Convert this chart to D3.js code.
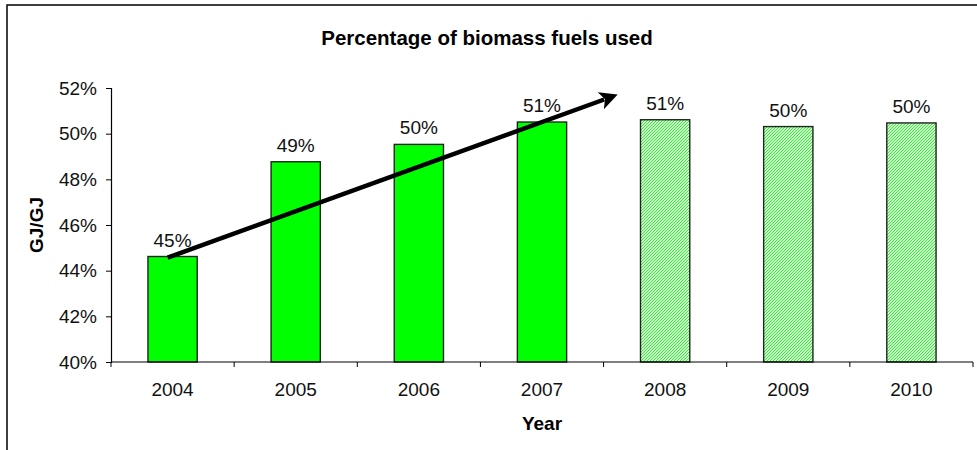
<!DOCTYPE html>
<html>
<head>
<meta charset="utf-8">
<script src="https://cdn.jsdelivr.net/npm/d3@7"></script>
<style>
  body { margin: 0; background: #fff; }
  svg { display: block; font-family: Arial, "Liberation Sans", sans-serif; }
</style>
</head>
<body>
<svg id="chart" width="977" height="450"></svg>
<script>
const years = ['2004', '2005', '2006', '2007', '2008', '2009', '2010']
const shares = [44.62, 48.77, 49.53, 50.51, 50.61, 50.31, 50.47]
const projected = [false, false, false, false, true, true, true]
const yTicks = [40, 42, 44, 46, 48, 50, 52]
// trend arrow ends: [band index, percent]
const arrowFrom = [-0.04, 44.57]
const arrowTo = [3.65, 51.78]

const width = 977
const height = 450
const margin = { top: 88, right: 4, bottom: 88, left: 111 }

const svg = d3.select("#chart")

// outer chart frame (runs off the right / bottom edge)
svg.append("rect")
  .attr("x", 7).attr("y", 5)
  .attr("width", 1000).attr("height", 500)
  .attr("fill", "none")
  .attr("stroke", "#000")
  .attr("stroke-width", 1.5)

// hatch for projected years
const defs = svg.append("defs")
const pat = defs.append("pattern")
  .attr("id", "hatch")
  .attr("patternUnits", "userSpaceOnUse")
  .attr("width", 3).attr("height", 3)
pat.append("rect").attr("width", 3).attr("height", 3).attr("fill", "#d0ffd0")
pat.append("path")
  .attr("d", "M-1,1 l2,-2 M0,3 l3,-3 M2,4 l2,-2")
  .attr("stroke", "#33ee33")
  .attr("stroke-width", 1)

const x = d3.scaleBand()
  .domain(years)
  .range([margin.left, width - margin.right])
  .paddingInner(0.6)
  .paddingOuter(0.3)

const xIdx = d3.scaleLinear()
  .domain([-0.5, years.length - 0.5])
  .range([margin.left, width - margin.right])

const y = d3.scaleLinear()
  .domain([40, 52])
  .range([height - margin.bottom, margin.top])

const fs = 19

// title
svg.append("text")
  .attr("x", 487).attr("y", 45)
  .attr("text-anchor", "middle")
  .attr("font-size", 20.5).attr("font-weight", "bold")
  .text("Percentage of biomass fuels used")

// bars
svg.selectAll(".bar")
  .data(years)
  .enter().append("rect")
  .attr("class", "bar")
  .attr("x", d => x(d))
  .attr("width", x.bandwidth())
  .attr("y", (d, i) => y(shares[i]))
  .attr("height", (d, i) => y(40) - y(shares[i]))
  .attr("fill", (d, i) => projected[i] ? "url(#hatch)" : "#00ff00")
  .attr("stroke", "#222")
  .attr("stroke-width", 1.4)

// value labels
svg.selectAll(".val")
  .data(years)
  .enter().append("text")
  .attr("class", "val")
  .attr("x", d => x(d) + x.bandwidth() / 2)
  .attr("y", (d, i) => y(shares[i]) - 10)
  .attr("text-anchor", "middle")
  .attr("font-size", fs)
  .attr("fill", "#111")
  .text((d, i) => Math.round(shares[i]) + "%")

// y axis
const yAxis = svg.append("g")
  .attr("transform", `translate(${margin.left},0)`)
  .call(d3.axisLeft(y).tickValues(yTicks).tickSize(5).tickPadding(9).tickFormat(d => d + "%"))
yAxis.select(".domain").attr("stroke", "#000").attr("stroke-width", 1.2)
yAxis.selectAll("text").attr("font-size", fs).attr("font-family", "Arial, 'Liberation Sans', sans-serif").attr("fill", "#111")

// x axis with ticks between categories
const xAxis = svg.append("g")
  .attr("transform", `translate(0,${y(40)})`)
xAxis.append("line")
  .attr("x1", margin.left).attr("x2", width - margin.right)
  .attr("stroke", "#000").attr("stroke-width", 1.2)
xAxis.selectAll(".tk")
  .data(d3.range(years.length + 1))
  .enter().append("line")
  .attr("x1", i => xIdx(i - 0.5)).attr("x2", i => xIdx(i - 0.5))
  .attr("y1", 0).attr("y2", 5)
  .attr("stroke", "#000")
xAxis.selectAll(".lbl")
  .data(years)
  .enter().append("text")
  .attr("x", d => x(d) + x.bandwidth() / 2)
  .attr("y", 34)
  .attr("text-anchor", "middle")
  .attr("font-size", fs)
  .attr("fill", "#111")
  .text(d => d)

// axis titles
svg.append("text")
  .attr("x", (margin.left + width - margin.right) / 2).attr("y", 430)
  .attr("text-anchor", "middle")
  .attr("font-size", 19).attr("font-weight", "bold")
  .text("Year")

svg.append("text")
  .attr("transform", "translate(43,225) rotate(-90)")
  .attr("text-anchor", "middle")
  .attr("font-size", 19).attr("font-weight", "bold")
  .text("GJ/GJ")

// trend arrow
defs.append("marker")
  .attr("id", "head")
  .attr("viewBox", "0 0 10 10")
  .attr("refX", 2).attr("refY", 5)
  .attr("markerUnits", "userSpaceOnUse")
  .attr("markerWidth", 24).attr("markerHeight", 18)
  .attr("orient", "auto")
  .append("path").attr("d", "M0,0 L10,5 L0,10 L2.5,5 z").attr("fill", "#000")

const x1 = xIdx(arrowFrom[0]), y1 = y(arrowFrom[1])
const x2 = xIdx(arrowTo[0]), y2 = y(arrowTo[1])
const len = Math.hypot(x2 - x1, y2 - y1)
const shorten = 19
svg.append("line")
  .attr("x1", x1).attr("y1", y1)
  .attr("x2", x2 - (x2 - x1) / len * shorten)
  .attr("y2", y2 - (y2 - y1) / len * shorten)
  .attr("stroke", "#000")
  .attr("stroke-width", 4.5)
  .attr("marker-end", "url(#head)")
</script>
</body>
</html>
